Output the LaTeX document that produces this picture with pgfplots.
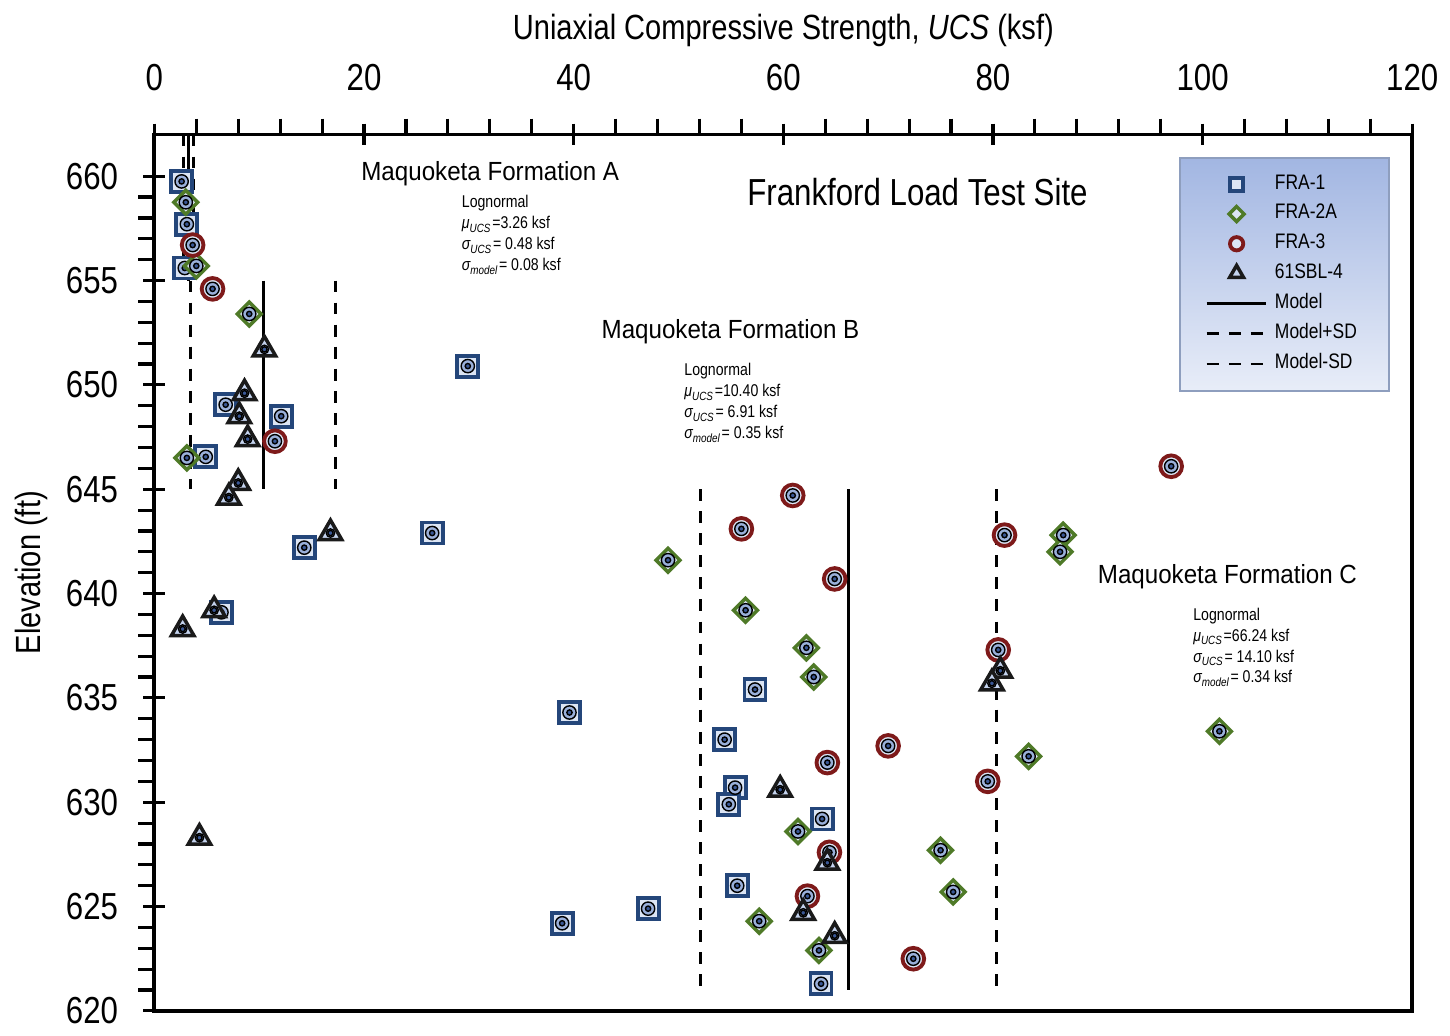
\documentclass[border=0pt]{standalone}
\usepackage{pgfplots}
\pgfplotsset{compat=1.18}
\usepackage{pgfplotstable}
\usepackage{fontspec}
\setmainfont{Liberation Sans}[FakeStretch=0.83]
\newfontfamily\formfont{Liberation Sans}[FakeStretch=0.92]

\definecolor{sqblue}{HTML}{24467A}
\definecolor{dmgreen}{HTML}{4F7A28}
\definecolor{crred}{HTML}{7E1A1A}
\definecolor{trblack}{HTML}{1A1A1A}
\definecolor{mkfill}{HTML}{DCE5F4}
\definecolor{trfill}{HTML}{C4D3EE}
\definecolor{mkmid}{HTML}{9AB0DA}
\definecolor{mkcore}{HTML}{3A5896}
\definecolor{legtop}{HTML}{A2B6E2}
\definecolor{legbot}{HTML}{E8EDF8}
\definecolor{legframe}{HTML}{8E9EBE}

\newcommand\bigfs{\fontsize{10.75}{12.9}\selectfont}
\newcommand\formfs{\formfont\fontsize{7.5}{9}\selectfont}
\newcommand\statfs{\fontsize{4.86}{5.98}\selectfont}
\newcommand\legfs{\fontsize{6}{7.2}\selectfont}
\newcommand\sub[1]{\textsubscript{\itshape #1}}

% UCS (ksf) against elevation (ft) for each boring
\pgfplotstableread{
x y
2.6 659.75
3.1 657.7
2.9 655.6
29.9 650.9
6.8 649.05
12.1 648.5
4.9 646.55
26.5 642.9
14.3 642.2
6.4 639.1
57.3 635.4
39.6 634.3
54.4 633.0
55.4 630.7
54.8 629.9
63.7 629.2
55.6 626.0
47.1 624.9
38.9 624.2
63.6 621.3
}\fraone
\pgfplotstableread{
x y
3.0 658.75
4.0 655.7
9.05 653.4
3.1 646.5
49.0 641.6
86.7 642.8
86.4 642.0
56.4 639.2
62.2 637.4
62.9 636.0
101.6 633.4
83.4 632.2
61.4 628.6
75.0 627.7
76.2 625.7
57.7 624.3
63.4 622.9
}\fratwo
\pgfplotstableread{
x y
3.65 656.7
5.55 654.6
11.5 647.3
97.0 646.1
60.9 644.7
56.0 643.1
81.1 642.8
64.9 640.7
80.5 637.3
70.0 632.7
64.2 631.9
79.5 631.0
64.4 627.6
62.3 625.5
72.4 622.5
}\frathree
\pgfplotstableread{
x y
10.5 651.7
8.6 649.6
8.1 648.5
8.9 647.4
8.0 645.3
7.1 644.6
16.8 642.9
5.7 639.2
2.7 638.3
4.3 628.3
59.7 630.6
64.2 627.1
61.9 624.7
64.9 623.6
80.7 636.3
79.9 635.7
}\sbl

\pgfplotsset{
  sq/.style={only marks, mark=square*, mark size=3pt,
    mark options={draw=sqblue, fill=mkfill, line width=1.1pt}},
  dm/.style={only marks, mark=square*, mark size=2.4pt,
    mark options={rotate=45, draw=dmgreen, fill=mkfill, line width=1pt}},
  cr/.style={only marks, mark=*, mark size=3.1pt,
    mark options={draw=crred, fill=mkfill, line width=1.1pt}},
  tr/.style={only marks, mark=triangle*, mark size=3.7pt,
    mark options={draw=trblack, fill=trfill, line width=1pt}},
  glow/.style={only marks, mark=*, mark size=1.9pt, mark options={draw=none, fill=mkmid}, forget plot},
  core/.style={only marks, mark=*, mark size=0.75pt, mark options={draw=none, fill=mkcore}, forget plot},
  model/.style={black, line width=0.85pt, unbounded coords=jump},
  modelsd/.style={model, dash pattern=on 3.4pt off 2.9pt},
}

\begin{document}
\begin{tikzpicture}
\begin{axis}[
  scale only axis, width=126.3mm, height=88mm,
  xmin=0, xmax=120, ymin=620, ymax=662,
  xtick={0,20,...,120}, minor x tick num=4,
  ytick={620,625,...,660}, minor y tick num=4,
  xtick pos=upper, xticklabel pos=upper, ytick pos=left,
  axis line style={line width=1.1pt},
  tick style={line width=0.9pt, black},
  tick align=center, major tick length=2.2mm, minor tick length=1.6mm,
  minor x tick style={yshift=0.8mm}, minor y tick style={xshift=-0.8mm},
  tick label style={font=\bigfs},
  xticklabel style={yshift=2mm},
  yticklabel style={xshift=-1.3mm},
  /pgf/number format/assume math mode=true,
  xlabel={Uniaxial Compressive Strength, \textit{UCS} (ksf)},
  ylabel={Elevation (ft)},
  label style={font=\bigfs},
  every axis x label/.style={at={(axis description cs:0.5,1.108)}, anchor=base},
  every axis y label/.style={at={(axis description cs:-0.0976,0.5)}, rotate=90, anchor=center},
  clip=false,
  legend cell align=left,
  legend style={at={(0.982,0.974)}, anchor=north east, font=\legfs,
    top color=legtop, bottom color=legbot, draw=legframe, line width=0.5pt,
    inner xsep=2.5mm, inner ysep=1.3mm, row sep=0.8pt, nodes={inner ysep=1pt}},
]
% model and model +/- one standard deviation, per formation
\addplot[model, forget plot] coordinates {(3.26,662) (3.26,655) (nan,nan) (10.40,655) (10.40,645) (nan,nan) (66.24,645) (66.24,621)};
\addplot[modelsd, forget plot] coordinates {(3.74,662) (3.74,655) (nan,nan) (17.31,655) (17.31,645) (nan,nan) (80.34,645) (80.34,621)};
\addplot[modelsd, forget plot] coordinates {(2.78,662) (2.78,655) (nan,nan) (3.49,655) (3.49,645) (nan,nan) (52.14,645) (52.14,621)};

\addplot[sq, legend image post style={mark size=1.8pt}] table {\fraone};
\addlegendentry{FRA-1}
\addplot[glow] table {\fraone};
\addplot[core] table {\fraone};
\addplot[dm, legend image post style={mark size=1.5pt}] table {\fratwo};
\addlegendentry{FRA-2A}
\addplot[glow] table {\fratwo};
\addplot[core] table {\fratwo};
\addplot[cr, legend image post style={mark size=1.9pt}] table {\frathree};
\addlegendentry{FRA-3}
\addplot[glow] table {\frathree};
\addplot[core] table {\frathree};
\addplot[tr, legend image post style={mark size=2.3pt}] table {\sbl};
\addlegendentry{61SBL-4}
\addplot[glow, mark size=1.2pt] table {\sbl};
\addplot[core] table {\sbl};

\addlegendimage{model}\addlegendentry{Model}
\addlegendimage{modelsd}\addlegendentry{Model+SD}
\addlegendimage{modelsd}\addlegendentry{Model-SD}

\node[anchor=base west, inner sep=0, font=\formfs] at (axis cs:19.68,659.78) {Maquoketa Formation A};
\node[anchor=base west, inner sep=0, font=\formfs] at (axis cs:42.6,652.24) {Maquoketa Formation B};
\node[anchor=base west, inner sep=0, font=\formfs] at (axis cs:89.94,640.46) {Maquoketa Formation C};
\node[anchor=base west, inner sep=0, font=\bigfs] at (axis cs:56.5,658.59) {Frankford Load Test Site};

\node[anchor=north west, inner sep=0, align=left, font=\statfs] at (axis cs:29.27,659.11)
  {Lognormal\\ {\itshape μ}\sub{UCS}=3.26 ksf\\ {\itshape σ}\sub{UCS}= 0.48 ksf\\ {\itshape σ}\sub{model}= 0.08 ksf};
\node[anchor=north west, inner sep=0, align=left, font=\statfs] at (axis cs:50.5,651.05)
  {Lognormal\\ {\itshape μ}\sub{UCS}=10.40 ksf\\ {\itshape σ}\sub{UCS}= 6.91 ksf\\ {\itshape σ}\sub{model}= 0.35 ksf};
\node[anchor=north west, inner sep=0, align=left, font=\statfs] at (axis cs:99.05,639.35)
  {Lognormal\\ {\itshape μ}\sub{UCS}=66.24 ksf\\ {\itshape σ}\sub{UCS}= 14.10 ksf\\ {\itshape σ}\sub{model}= 0.34 ksf};
\end{axis}
\path ([shift={(-15.5mm,-1.7mm)}]current axis.south west) rectangle ([shift={(3.3mm,13.5mm)}]current axis.north east);
\end{tikzpicture}
\end{document}
